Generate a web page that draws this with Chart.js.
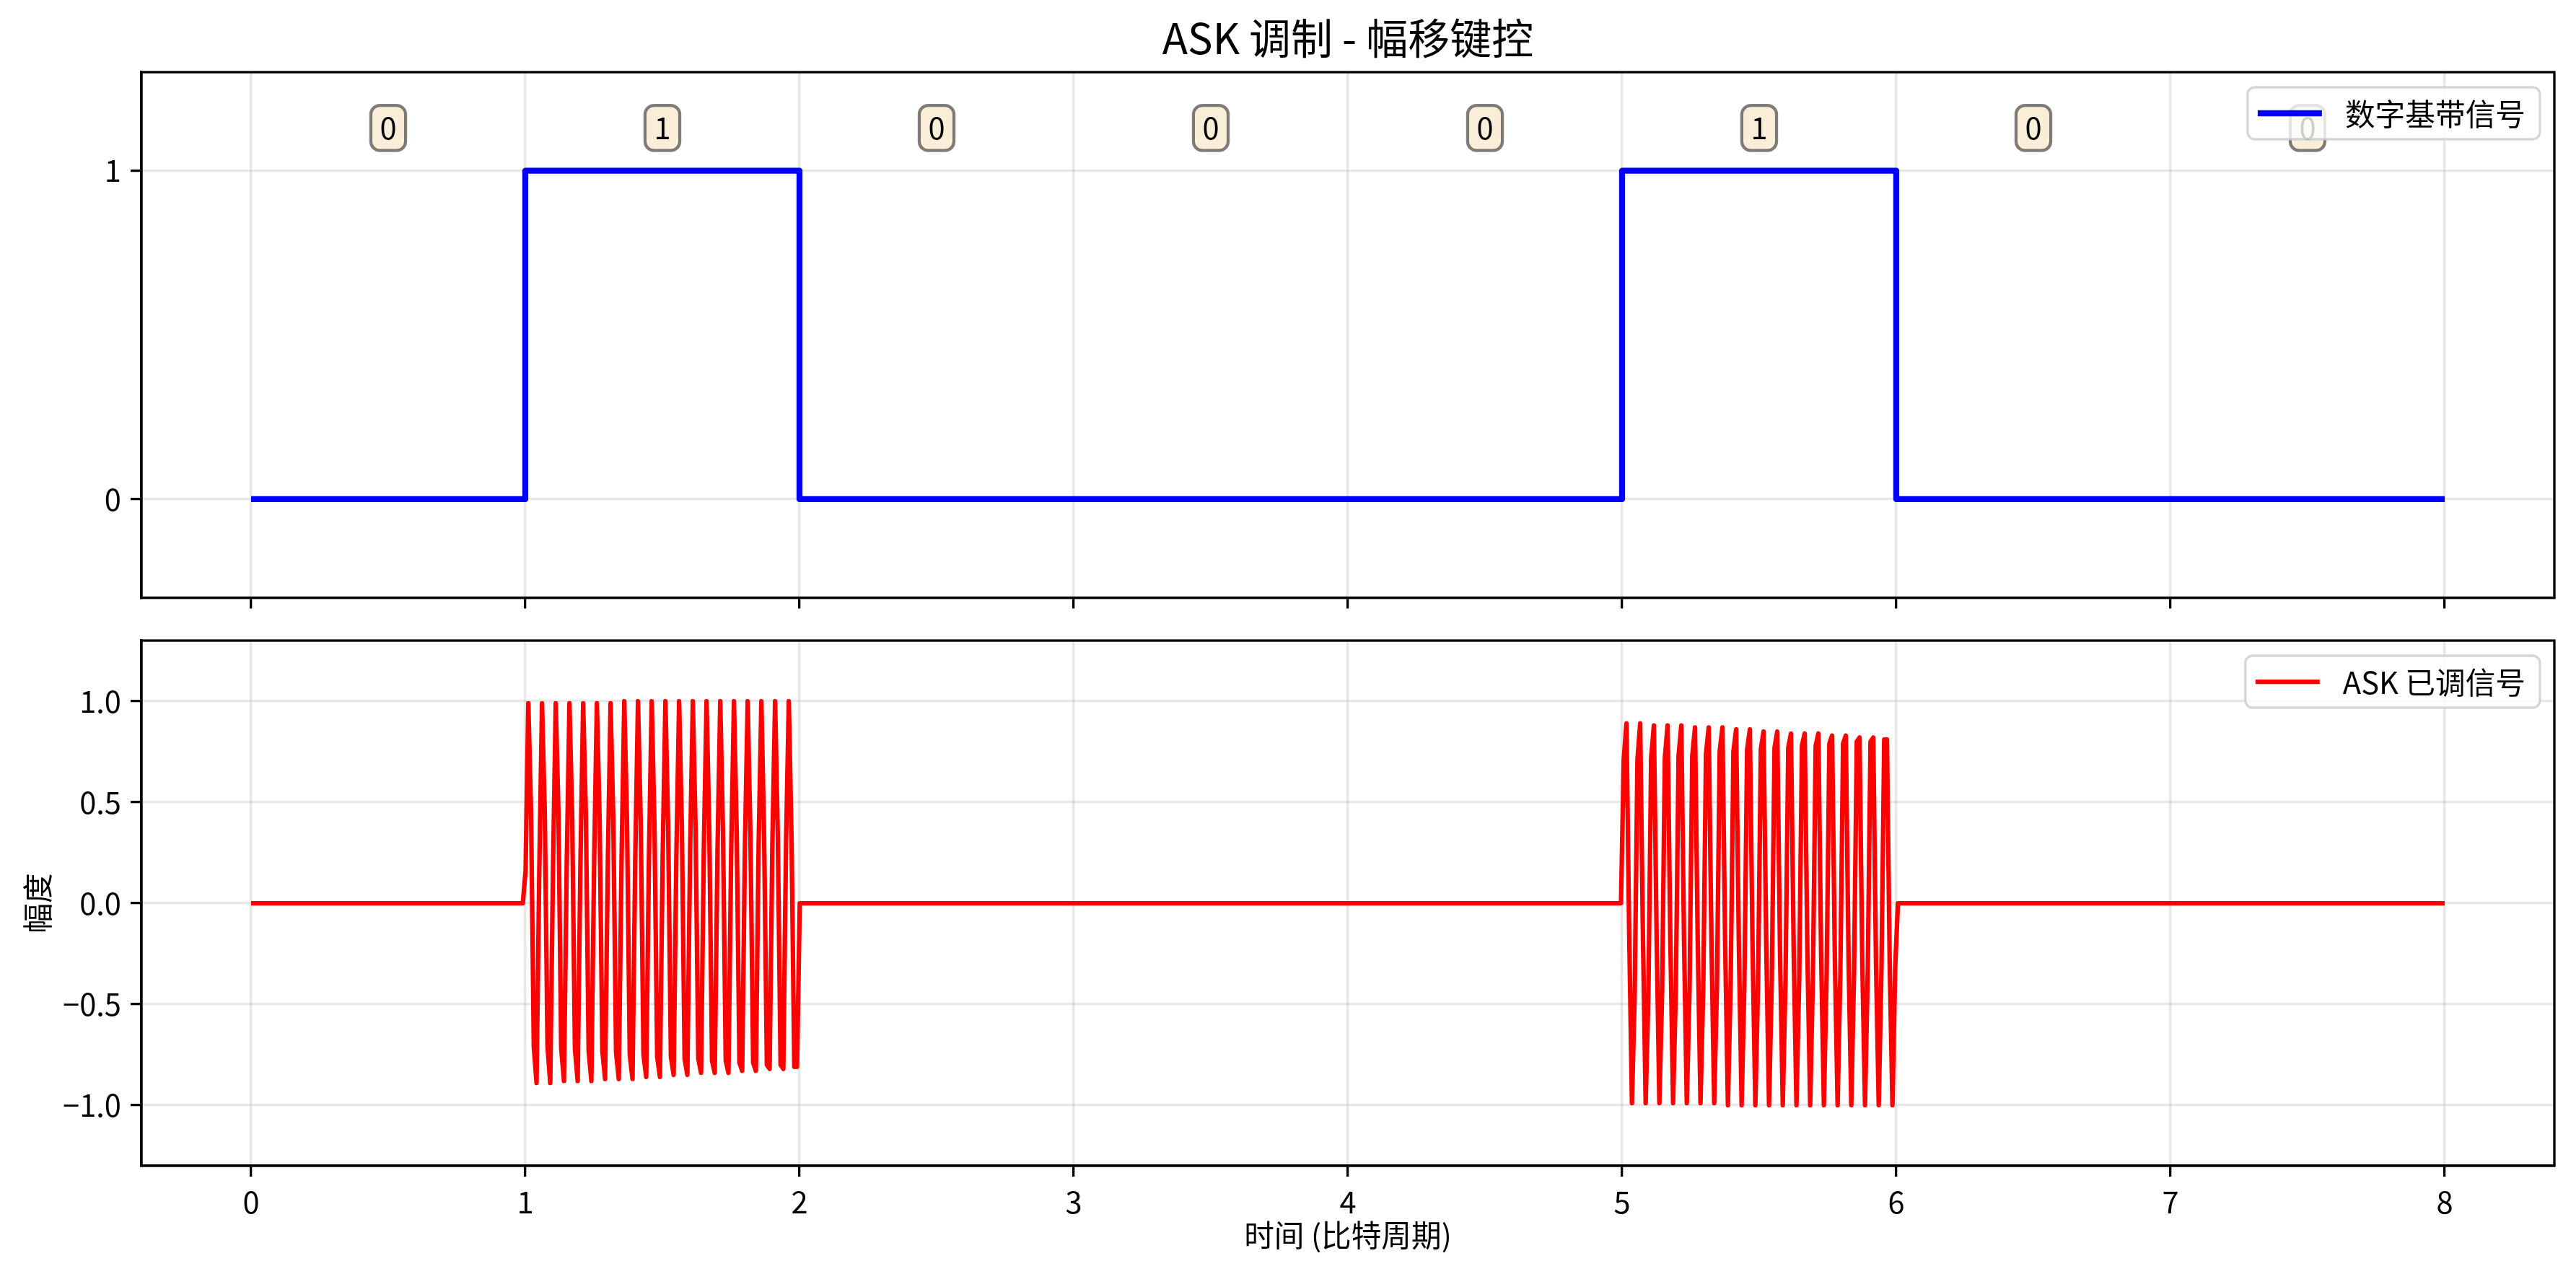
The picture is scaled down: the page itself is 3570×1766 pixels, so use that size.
<!DOCTYPE html>
<html>
<head>
<meta charset="utf-8">
<script src="https://cdn.jsdelivr.net/npm/chart.js@4/dist/chart.umd.min.js"></script>
<style>
    html, body { margin: 0; padding: 0; background: #fff; }
    #wrap { position: relative; width: 3570px; height: 1766px; }
    canvas { position: absolute; left: 0; }
</style>
</head>
<body>
<div id="wrap">
    <canvas id="graphBase" width="3570" height="860" style="top:0;width:3570px;height:860px"></canvas>
    <canvas id="graphAsk" width="3570" height="906" style="top:860px;width:3570px;height:906px"></canvas>
</div>
<script>
//Données - bits transmis et axes
var bits = [0, 1, 0, 0, 0, 1, 0, 0];
var bitTicks = [0, 1, 2, 3, 4, 5, 6, 7, 8];
var baseTicks = [0, 1];
var askTicks = [-1.0, -0.5, 0.0, 0.5, 1.0];

//Données - signal ASK échantillonné (5 échantillons par période de porteuse)
var burstStarts = [1.001, 5.006];
var sampleStep = 0.01;
var burstBit1 = [
    0.16, 0.99, 0.45, -0.71, -0.89,  0.16, 0.99, 0.45, -0.71, -0.89,
    0.17, 0.99, 0.44, -0.72, -0.88,  0.18, 0.99, 0.43, -0.72, -0.88,
    0.19, 0.99, 0.43, -0.73, -0.88,  0.20, 0.99, 0.42, -0.73, -0.87,
    0.20, 0.99, 0.41, -0.74, -0.87,  0.21, 1.00, 0.40, -0.75, -0.87,
    0.22, 1.00, 0.40, -0.75, -0.86,  0.23, 1.00, 0.39, -0.76, -0.86,
    0.23, 1.00, 0.38, -0.76, -0.85,  0.24, 1.00, 0.38, -0.77, -0.85,
    0.25, 1.00, 0.37, -0.77, -0.84,  0.26, 1.00, 0.36, -0.78, -0.84,
    0.26, 1.00, 0.35, -0.78, -0.84,  0.27, 1.00, 0.35, -0.79, -0.83,
    0.28, 1.00, 0.34, -0.79, -0.83,  0.29, 1.00, 0.33, -0.80, -0.82,
    0.29, 1.00, 0.32, -0.80, -0.82,  0.30, 1.00, 0.32, -0.81, -0.81
];
var burstBit5 = [
    0.71, 0.89, -0.16, -0.99, -0.45,  0.71, 0.89, -0.16, -0.99, -0.45,
    0.72, 0.88, -0.17, -0.99, -0.44,  0.72, 0.88, -0.18, -0.99, -0.43,
    0.73, 0.88, -0.19, -0.99, -0.43,  0.73, 0.87, -0.20, -0.99, -0.42,
    0.74, 0.87, -0.20, -0.99, -0.41,  0.75, 0.87, -0.21, -1.00, -0.40,
    0.75, 0.86, -0.22, -1.00, -0.40,  0.76, 0.86, -0.23, -1.00, -0.39,
    0.76, 0.85, -0.23, -1.00, -0.38,  0.77, 0.85, -0.24, -1.00, -0.38,
    0.77, 0.84, -0.25, -1.00, -0.37,  0.78, 0.84, -0.26, -1.00, -0.36,
    0.78, 0.84, -0.26, -1.00, -0.35,  0.79, 0.83, -0.27, -1.00, -0.35,
    0.79, 0.83, -0.28, -1.00, -0.34,  0.80, 0.82, -0.29, -1.00, -0.33,
    0.80, 0.82, -0.29, -1.00, -0.32,  0.81, 0.81, -0.30, -1.00, -0.32
];

var FS = 41.7;
var FAMILY = "'Noto Sans CJK SC', 'Noto Sans', sans-serif";
var GRID = 'rgba(176,176,176,0.3)';
var bitLabelY = 1.13;

Chart.defaults.font.family = FAMILY;
Chart.defaults.font.size = FS;
Chart.defaults.color = '#000';

//Points - signal en bande de base
var basePoints = [];
for (var i = 0; i < bits.length; i++) {
    basePoints.push({ x: i, y: bits[i] });
}
basePoints.push({ x: bits.length, y: bits[bits.length - 1] });

//Points - signal ASK
var askPoints = [{ x: 0, y: 0 }];
[burstBit1, burstBit5].forEach(function (vals, b) {
    var t0 = burstStarts[b];
    askPoints.push({ x: t0 - sampleStep, y: 0 });
    vals.forEach(function (v, k) {
        askPoints.push({ x: t0 + k * sampleStep, y: v });
    });
    askPoints.push({ x: t0 + vals.length * sampleStep, y: 0 });
});
askPoints.push({ x: bits.length, y: 0 });

function fixTicks(vals) {
    return function (scale) {
        scale.ticks = vals.map(function (v) { return { value: v }; });
    };
}

function roundRect(ctx, x, y, w, h, r) {
    ctx.beginPath();
    ctx.moveTo(x + r, y);
    ctx.lineTo(x + w - r, y);
    ctx.arcTo(x + w, y, x + w, y + r, r);
    ctx.lineTo(x + w, y + h - r);
    ctx.arcTo(x + w, y + h, x + w - r, y + h, r);
    ctx.lineTo(x + r, y + h);
    ctx.arcTo(x, y + h, x, y + h - r, r);
    ctx.lineTo(x, y + r);
    ctx.arcTo(x, y, x + r, y, r);
    ctx.closePath();
}

//Cadre complet autour de la zone du graphique
var framePlugin = {
    id: 'frame',
    afterDatasetsDraw: function (chart) {
        var a = chart.chartArea, ctx = chart.ctx;
        ctx.save();
        ctx.strokeStyle = '#000';
        ctx.lineWidth = 3.3;
        ctx.strokeRect(a.left, a.top, a.right - a.left, a.bottom - a.top);
        ctx.restore();
    }
};

//Etiquettes des bits au-dessus du signal
var bitLabelPlugin = {
    id: 'bitLabels',
    afterDatasetsDraw: function (chart) {
        var ctx = chart.ctx, sx = chart.scales.x, sy = chart.scales.y;
        ctx.save();
        ctx.font = FS + 'px ' + FAMILY;
        bits.forEach(function (b, i) {
            var txt = String(b);
            var cx = sx.getPixelForValue(i + 0.5), cy = sy.getPixelForValue(bitLabelY);
            var pad = 0.3 * FS;
            var w = ctx.measureText(txt).width + 2 * pad, h = 0.9 * FS + 2 * pad;
            roundRect(ctx, cx - w / 2, cy - h / 2, w, h, pad);
            ctx.fillStyle = 'rgba(245,222,179,0.5)';
            ctx.fill();
            ctx.strokeStyle = 'rgba(0,0,0,0.5)';
            ctx.lineWidth = 4.2;
            ctx.stroke();
            ctx.fillStyle = '#000';
            ctx.textAlign = 'center';
            ctx.textBaseline = 'middle';
            ctx.fillText(txt, cx, cy);
        });
        ctx.restore();
    }
};

//Légende en haut à droite dans la zone du graphique
var boxLegendPlugin = {
    id: 'boxLegend',
    afterDraw: function (chart, args, opts) {
        var a = chart.chartArea, ctx = chart.ctx;
        ctx.save();
        ctx.font = FS + 'px ' + FAMILY;
        var tw = ctx.measureText(opts.text).width;
        var w = 14 + 89 + 32 + tw + 20, h = 72;
        var x = a.right - 20 - w, y = a.top + 21;
        roundRect(ctx, x, y, w, h, 10);
        ctx.fillStyle = 'rgba(255,255,255,0.8)';
        ctx.fill();
        ctx.strokeStyle = 'rgba(204,204,204,0.8)';
        ctx.lineWidth = 3.3;
        ctx.stroke();
        ctx.beginPath();
        ctx.moveTo(x + 14, y + 36);
        ctx.lineTo(x + 103, y + 36);
        ctx.strokeStyle = opts.color;
        ctx.lineWidth = opts.lineWidth;
        ctx.stroke();
        ctx.fillStyle = '#000';
        ctx.textAlign = 'left';
        ctx.textBaseline = 'middle';
        ctx.fillText(opts.text, x + 135, y + 37);
        ctx.restore();
    }
};

function xScale(showLabels, height, title) {
    return {
        type: 'linear',
        min: -0.4,
        max: 8.4,
        afterBuildTicks: fixTicks(bitTicks),
        afterFit: function (s) {
            s.height = height;
            s.paddingLeft = 0;
            s.paddingRight = 0;
        },
        grid: { color: GRID, lineWidth: 3.3, drawTicks: true, tickLength: 15, tickColor: '#000', tickWidth: 3.3 },
        border: { display: true, color: '#000', width: 3.3 },
        ticks: { display: showLabels, padding: 10, maxRotation: 0, callback: function (v) { return String(v); } },
        title: title
    };
}

function yScale(min, max, vals, fmt, title) {
    return {
        type: 'linear',
        min: min,
        max: max,
        afterBuildTicks: fixTicks(vals),
        afterFit: function (s) {
            s.width = 196;
            s.paddingTop = 0;
            s.paddingBottom = 0;
        },
        grid: { color: GRID, lineWidth: 3.3, drawTicks: true, tickLength: 15, tickColor: '#000', tickWidth: 3.3 },
        border: { display: true, color: '#000', width: 3.3 },
        ticks: { padding: 13, callback: fmt },
        title: title
    };
}

//Graphique - signal numérique en bande de base
var chartBase = new Chart(document.getElementById('graphBase').getContext('2d'), {
    type: 'line',
    data: {
        datasets: [{
            label: '数字基带信号',
            data: basePoints,
            borderColor: '#0000ff',
            borderWidth: 8.3,
            pointRadius: 0,
            stepped: 'before',
            borderJoinStyle: 'round'
        }]
    },
    options: {
        responsive: false,
        devicePixelRatio: 1,
        animation: false,
        events: [],
        layout: { padding: { top: 0, right: 30, bottom: 0, left: 0 } },
        scales: {
            x: xScale(false, 31.5, { display: false }),
            y: yScale(-0.3, 1.3, baseTicks, function (v) { return String(v); }, { display: false })
        },
        plugins: {
            title: {
                display: true,
                text: 'ASK 调制 - 幅移键控',
                fullSize: false,
                color: '#000',
                font: { size: 58, weight: 'normal', lineHeight: 1.2 },
                padding: { top: 18, bottom: 12.4 }
            },
            legend: { display: false },
            tooltip: { enabled: false },
            boxLegend: { text: '数字基带信号', color: '#0000ff', lineWidth: 8.3 }
        }
    },
    plugins: [bitLabelPlugin, framePlugin, boxLegendPlugin]
});

//Graphique - signal ASK modulé
var chartAsk = new Chart(document.getElementById('graphAsk').getContext('2d'), {
    type: 'line',
    data: {
        datasets: [{
            label: 'ASK 已调信号',
            data: askPoints,
            borderColor: '#ff0000',
            borderWidth: 6.25,
            pointRadius: 0,
            tension: 0,
            borderJoinStyle: 'round'
        }]
    },
    options: {
        responsive: false,
        devicePixelRatio: 1,
        animation: false,
        events: [],
        layout: { padding: { top: 28, right: 30, bottom: 0, left: 0 } },
        scales: {
            x: xScale(true, 150, { display: true, text: '时间 (比特周期)', padding: { top: 0, bottom: 29 }, font: { size: FS } }),
            y: yScale(-1.3, 1.3, askTicks, function (v) { return v.toFixed(1).replace('-', '\u2212'); },
                { display: true, text: '幅度', padding: { top: 27, bottom: 0 }, font: { size: FS } })
        },
        plugins: {
            legend: { display: false },
            tooltip: { enabled: false },
            boxLegend: { text: 'ASK 已调信号', color: '#ff0000', lineWidth: 6.25 }
        }
    },
    plugins: [framePlugin, boxLegendPlugin]
});
</script>
</body>
</html>
